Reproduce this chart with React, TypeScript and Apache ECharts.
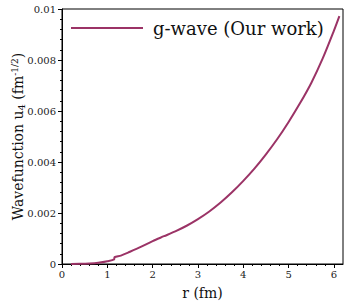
import React, { useEffect, useRef } from "react";
import * as echarts from "echarts";

const rValues = [0.2, 0.4, 0.6, 0.8, 1.0, 1.15, 1.16, 1.3, 1.5, 1.75, 2.0, 2.25, 2.5, 2.75, 3.0, 3.25, 3.5, 3.75, 4.0, 4.25, 4.5, 4.75, 5.0, 5.25, 5.5, 5.75, 6.0, 6.12];
const u4Values = [0, 0.000005, 0.00002, 0.00005, 0.00011, 0.00018, 0.00027, 0.00033, 0.00048, 0.00068, 0.0009, 0.00109, 0.00128, 0.0015, 0.00176, 0.00206, 0.00241, 0.00281, 0.00326, 0.00375, 0.0043, 0.0049, 0.00557, 0.0063, 0.0071, 0.00805, 0.00915, 0.00972];
const xTicks = [0, 1, 2, 3, 4, 5, 6];
const seriesName = "g-wave (Our work)";

const FONT = "DejaVu Serif";
const LINE_COLOR = "#9b3366";

export default function App() {
  const ref = useRef<HTMLDivElement>(null);
  useEffect(() => {
    if (!ref.current) return;
    const chart = echarts.init(ref.current, null, { renderer: "svg" });
    chart.setOption({
      animation: false,
      textStyle: { fontFamily: FONT },
      grid: { left: 62, right: 6, top: 9, bottom: 40, show: true, borderColor: "#000", borderWidth: 1, backgroundColor: "transparent", outerBoundsMode: "none", containLabel: false },
      legend: {
        show: true,
        left: 71,
        top: 18,
        padding: 0,
        itemWidth: 72,
        itemHeight: 2,
        textStyle: { fontFamily: FONT, fontSize: 18, color: "#111", padding: [0, 0, 0, 5], lineHeight: 20 },
        data: [{ name: seriesName, icon: "rect", itemStyle: { color: LINE_COLOR } }],
      },
      xAxis: {
        type: "value",
        min: 0,
        max: 6.2,
        interval: 1,
        name: "r (fm)",
        nameLocation: "middle",
        nameGap: 22,
        nameMoveOverlap: false,
        nameTextStyle: { fontFamily: FONT, fontSize: 14, color: "#111" },
        axisLine: { lineStyle: { color: "#000", width: 1 } },
        axisTick: { show: true, length: 4, lineStyle: { color: "#000" }, customValues: xTicks },
        minorTick: { show: true, splitNumber: 5, length: 2, lineStyle: { color: "#000" } },
        splitLine: { show: false },
        axisLabel: { fontFamily: FONT, fontSize: 10, color: "#222", margin: 5, customValues: xTicks, hideOverlap: false },
      },
      yAxis: {
        type: "value",
        min: 0,
        max: 0.01,
        interval: 0.002,
        name: "Wavefunction u{sub|4} (fm{sup|-1/2})",
        nameLocation: "middle",
        nameGap: 36,
        nameMoveOverlap: false,
        nameTextStyle: {
          fontFamily: FONT,
          fontSize: 14,
          color: "#111",
          rich: {
            sub: { fontFamily: FONT, fontSize: 10, color: "#111", padding: [6, 0, 0, 0] },
            sup: { fontFamily: FONT, fontSize: 9, color: "#111", padding: [0, 0, 7, 0] },
          },
        },
        axisLine: { show: true, lineStyle: { color: "#000", width: 1 } },
        axisTick: { show: true, length: 4, lineStyle: { color: "#000" } },
        minorTick: { show: true, splitNumber: 5, length: 2, lineStyle: { color: "#000" } },
        splitLine: { show: false },
        axisLabel: { fontFamily: FONT, fontSize: 10, color: "#222", margin: 6 },
      },
      series: [
        {
          name: seriesName,
          type: "line",
          data: rValues.map((r, i) => [r, u4Values[i]]),
          smooth: 0.3,
          symbol: "none",
          lineStyle: { color: LINE_COLOR, width: 2 },
          itemStyle: { color: LINE_COLOR },
        },
      ],
    });
    return () => chart.dispose();
  }, []);
  return <div ref={ref} style={{ width: 349, height: 304, position: "absolute", left: 0, top: 0 }} />;
}
